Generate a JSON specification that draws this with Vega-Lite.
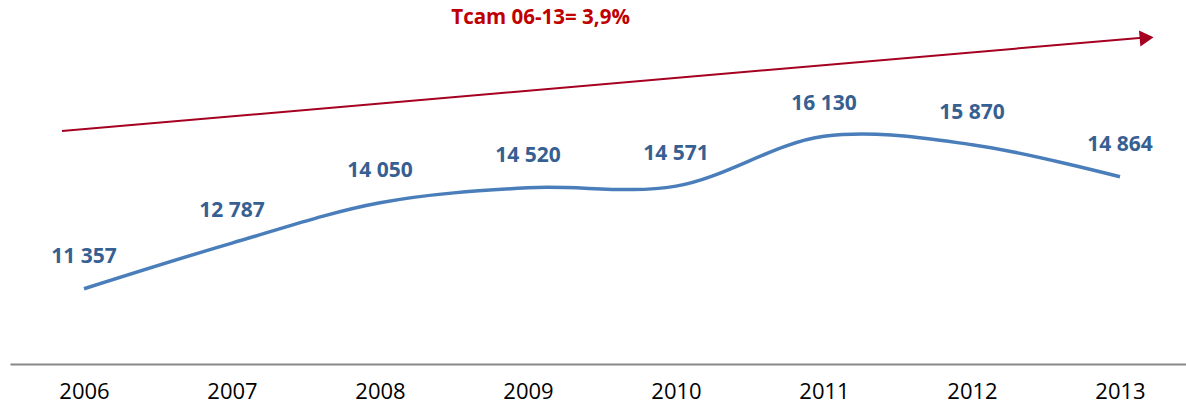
{
  "$schema": "https://vega.github.io/schema/vega-lite/v6.json",
  "autosize": "none",
  "width": 1176,
  "height": 364,
  "padding": {"left": 10, "top": 0, "right": 0, "bottom": 45},
  "config": {"view": {"stroke": null}, "font": "Open Sans"},
  "datasets": {
    "series": [
      {"year": 2006, "value": 11357, "label": "11 357"},
      {"year": 2007, "value": 12787, "label": "12 787"},
      {"year": 2008, "value": 14050, "label": "14 050"},
      {"year": 2009, "value": 14520, "label": "14 520"},
      {"year": 2010, "value": 14571, "label": "14 571"},
      {"year": 2011, "value": 16130, "label": "16 130"},
      {"year": 2012, "value": 15870, "label": "15 870"},
      {"year": 2013, "value": 14864, "label": "14 864"}
    ],
    "arrow": [
      {"x": 2005.851, "y": 16297, "x2": 2013.15, "y2": 19220}
    ],
    "head": [
      {"x": 2013.18, "y": 19215}
    ],
    "title": [
      {"x": 2009.085, "y": 19836, "text": "Tcam 06-13= 3,9%"}
    ]
  },
  "layer": [
    {
      "data": {"name": "series"},
      "mark": {"type": "line", "interpolate": "catmull-rom", "color": "#4A7EBB", "strokeWidth": 3.5},
      "encoding": {
        "x": {
          "field": "year", "type": "quantitative",
          "scale": {"domain": [2005.5, 2013.446], "nice": false, "zero": false},
          "axis": {
            "title": null, "values": [2006, 2007, 2008, 2009, 2010, 2011, 2012, 2013],
            "format": "d", "grid": false, "ticks": false,
            "domainColor": "#888888", "domainWidth": 2,
            "labelFontSize": 22, "labelColor": "#000000", "labelPadding": 17,
            "labelFont": "Open Sans", "labelFontWeight": "normal"
          }
        },
        "y": {
          "field": "value", "type": "quantitative",
          "scale": {"domain": [9000, 20400], "nice": false, "zero": false},
          "axis": null
        }
      }
    },
    {
      "data": {"name": "series"},
      "mark": {"type": "text", "fontSize": 21, "fontWeight": "bold", "color": "#376092", "dy": -32, "font": "Open Sans"},
      "encoding": {
        "x": {"field": "year", "type": "quantitative"},
        "y": {"field": "value", "type": "quantitative"},
        "text": {"field": "label"}
      }
    },
    {
      "data": {"name": "arrow"},
      "mark": {"type": "rule", "color": "#A50021", "strokeWidth": 2},
      "encoding": {
        "x": {"field": "x", "type": "quantitative"},
        "y": {"field": "y", "type": "quantitative"},
        "x2": {"field": "x2"},
        "y2": {"field": "y2"}
      }
    },
    {
      "data": {"name": "head"},
      "mark": {"type": "point", "shape": "triangle-right", "filled": true, "color": "#A50021", "size": 260, "opacity": 1, "angle": -5},
      "encoding": {
        "x": {"field": "x", "type": "quantitative"},
        "y": {"field": "y", "type": "quantitative"}
      }
    },
    {
      "data": {"name": "title"},
      "mark": {"type": "text", "fontSize": 20.5, "fontWeight": "bold", "color": "#C00000", "font": "Open Sans"},
      "encoding": {
        "x": {"field": "x", "type": "quantitative"},
        "y": {"field": "y", "type": "quantitative"},
        "text": {"field": "text"}
      }
    }
  ]
}
